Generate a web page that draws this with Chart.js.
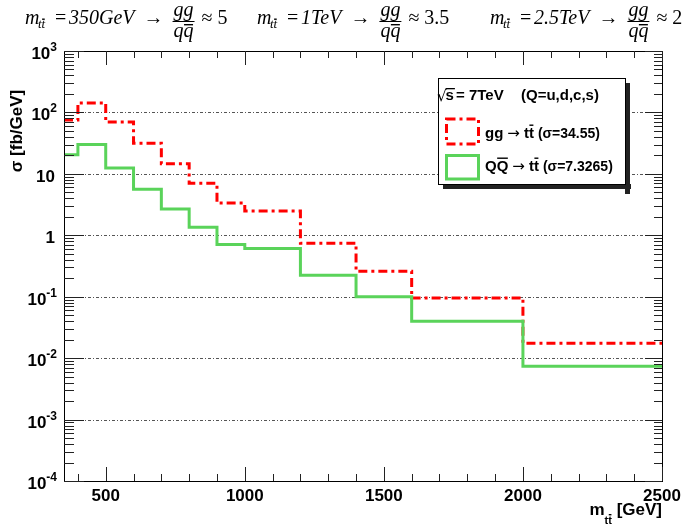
<!DOCTYPE html>
<html><head><meta charset="utf-8">
<script src="https://cdn.jsdelivr.net/npm/chart.js@4.4.0/dist/chart.umd.min.js"></script>
<style>html,body{margin:0;padding:0;background:#fff;overflow:hidden}#wrap{width:685px;height:530px}</style>
</head><body><div id="wrap"><canvas id="c" width="685" height="530"></canvas></div>
<script>
// ---- data ----
const binEdges = [350, 400, 500, 600, 700, 800, 900, 1000, 1200, 1400, 1600, 2000, 2500];
const ggValues = [75, 143, 70, 31.6, 14.6, 7.0, 3.35, 2.48, 0.74, 0.259, 0.095, 0.0175];
const qqValues = [20.4, 30, 12.4, 5.6, 2.68, 1.35, 0.71, 0.61, 0.223, 0.1, 0.040, 0.0074];
const xTickValues = [500, 1000, 1500, 2000, 2500];
const xTickLabels = ['500', '1000', '1500', '2000', '2500'];
const yTickValues = [1e3, 1e2, 1e1, 1, 1e-1, 1e-2, 1e-3, 1e-4];
const yTickBases = ['10', '10', '10', '1', '10', '10', '10', '10'];
const yTickExps = ['3', '2', '', '', '-1', '-2', '-3', '-4'];
const headerMasses = ['350GeV', '1TeV', '2.5TeV'];
const headerRatios = ['5', '3.5', '2'];
const ggSigma = '34.55';
const qqSigma = '7.3265';

function histPoints(vals) {
  const pts = vals.map((v, i) => ({x: binEdges[i], y: v}));
  pts.push({x: binEdges[binEdges.length - 1], y: vals[vals.length - 1]});
  return pts;
}

const SANS = '"Liberation Sans", Arial, sans-serif';
const SERIF = '"Liberation Serif", "Times New Roman", serif';

function textWithBars(ctx, str, x, y, barIdx, barY) {
  ctx.fillText(str, x, y);
  barIdx.forEach(i => {
    const a = ctx.measureText(str.slice(0, i)).width;
    const b = ctx.measureText(str.slice(0, i + 1)).width;
    ctx.fillRect(x + a + 0.5, barY, b - a - 1, 1.4);
  });
  return ctx.measureText(str).width;
}

function drawHeaderSeg(ctx, x0, valText, ratioText) {
  const it = 'italic 20px ' + SERIF, up = '20px ' + SERIF, sub = 'italic 13px ' + SERIF;
  ctx.fillStyle = '#000'; ctx.textAlign = 'left'; ctx.textBaseline = 'alphabetic';
  ctx.font = it; ctx.fillText('m', x0, 24);
  ctx.font = sub; textWithBars(ctx, 'tt', x0 + 13, 28, [1], 18.5);
  ctx.font = up; ctx.fillText('=', x0 + 30, 24);
  ctx.font = it; ctx.fillText(valText, x0 + 44, 24);
  let x = x0 + 44 + ctx.measureText(valText).width + 9;
  ctx.font = up; ctx.fillText('\u2192', x, 24); x += ctx.measureText('\u2192').width + 9;
  ctx.font = it;
  const wg = ctx.measureText('gg').width, wq = ctx.measureText('qq').width;
  const fw = Math.max(wg, wq) + 2;
  ctx.fillText('gg', x + (fw - wg) / 2, 16);
  textWithBars(ctx, 'qq', x + (fw - wq) / 2, 37, [1], 24);
  ctx.fillRect(x, 21, fw, 1);
  x += fw + 7;
  ctx.font = up; ctx.fillText('\u2248', x, 24); x += ctx.measureText('\u2248').width + 5;
  ctx.fillText(ratioText, x, 24);
}

function drawLegendLine(ctx, x, y, first, firstBars, sigma) {
  const bold = 'bold 15px ' + SANS;
  ctx.font = bold;
  x += textWithBars(ctx, first, x, y, firstBars, y - 13.5) + 4;
  ctx.font = '15px "DejaVu Sans", sans-serif';
  ctx.fillText('\u2192', x, y - 0.5); x += ctx.measureText('\u2192').width + 4;
  ctx.font = bold;
  x += textWithBars(ctx, 'tt', x, y, [1], y - 13.5) + 4;
  ctx.font = 'bold 14px ' + SANS;
  ctx.fillText('(\u03c3=' + sigma + ')', x, y);
}

const rootFrame = {
  id: 'rootFrame',
  beforeDatasetsDraw(chart) {
    const ctx = chart.ctx, {left, right} = chart.chartArea, ya = chart.scales.y;
    ctx.save();
    ctx.strokeStyle = '#555'; ctx.lineWidth = 1; ctx.setLineDash([3, 2, 1, 2]);
    yTickValues.forEach(v => {
      if (v <= ya.min || v >= ya.max) return;
      const y = Math.round(ya.getPixelForValue(v)) + 0.5;
      ctx.beginPath(); ctx.moveTo(left, y); ctx.lineTo(right, y); ctx.stroke();
    });
    ctx.restore();
  },
  afterDatasetsDraw(chart) {
    const ctx = chart.ctx, {left, right, top, bottom} = chart.chartArea;
    const xa = chart.scales.x, ya = chart.scales.y;
    ctx.save();
    ctx.setLineDash([]);
    // frame
    ctx.strokeStyle = '#000'; ctx.lineWidth = 1;
    ctx.strokeRect(Math.round(left) + 0.5, Math.round(top) + 0.5, Math.round(right - left), Math.round(bottom - top));
    // y ticks
    ctx.strokeStyle = '#222';
    ctx.beginPath();
    for (let e = -4; e <= 3; e++) {
      for (let m = 1; m <= 9; m++) {
        const v = m * Math.pow(10, e);
        if (v > ya.max) break;
        const y = Math.round(ya.getPixelForValue(v)) + 0.5;
        const lenL = m === 1 ? 20 : 10, lenR = m === 1 ? 17 : 8;
        ctx.moveTo(left, y); ctx.lineTo(left + lenL, y);
        ctx.moveTo(right, y); ctx.lineTo(right - lenR, y);
      }
    }
    // x ticks
    for (let v = 400; v <= 2500; v += 100) {
      const x = Math.round(xa.getPixelForValue(v)) + 0.5;
      const len = v % 500 === 0 ? 14 : 7;
      ctx.moveTo(x, bottom); ctx.lineTo(x, bottom - len);
      ctx.moveTo(x, top); ctx.lineTo(x, top + len);
    }
    ctx.stroke();

    // x tick labels
    ctx.fillStyle = '#000';
    ctx.font = 'bold 17px ' + SANS; ctx.textAlign = 'center'; ctx.textBaseline = 'alphabetic';
    xTickValues.forEach((v, i) => ctx.fillText(xTickLabels[i], xa.getPixelForValue(v), 501));
    // y tick labels
    yTickValues.forEach((v, i) => {
      const y = ya.getPixelForValue(v);
      const base = yTickBases[i], ex = yTickExps[i];
      ctx.textAlign = 'right';
      const rx = 57;
      if (ex) {
        ctx.font = 'bold 12px ' + SANS;
        const we = ctx.measureText(ex).width;
        ctx.fillText(ex, rx, y + 0);
        ctx.font = 'bold 17px ' + SANS;
        ctx.fillText(base, rx - we, y + 8);
      } else {
        ctx.font = 'bold 17px ' + SANS;
        ctx.fillText(base, 55, y + 8);
      }
    });

    // x axis title
    ctx.textAlign = 'left';
    ctx.font = 'bold 17px ' + SANS;
    const wGeV = ctx.measureText(' [GeV]').width;
    const wm = ctx.measureText('m').width;
    ctx.font = 'bold 11px ' + SANS;
    const wtt = ctx.measureText('tt').width;
    let tx = 662 - wGeV - wtt - wm;
    ctx.font = 'bold 17px ' + SANS;
    ctx.fillText('m', tx, 515);
    ctx.font = 'bold 11px ' + SANS;
    textWithBars(ctx, 'tt', tx + wm, 524, [1], 514);
    ctx.font = 'bold 17px ' + SANS;
    ctx.fillText(' [GeV]', tx + wm + wtt, 515);

    // y axis title
    ctx.save();
    ctx.translate(22, 131); ctx.rotate(-Math.PI / 2);
    ctx.textAlign = 'center'; ctx.font = 'bold 17px ' + SANS;
    ctx.fillText('\u03c3 [fb/GeV]', 0, 0);
    ctx.restore();

    // header
    const segX = [25, 257, 490];
    headerMasses.forEach((m, i) => drawHeaderSeg(ctx, segX[i], m, headerRatios[i]));

    // legend
    const L = 438, T = 78, W = 187, H = 106;
    ctx.fillStyle = '#222';
    ctx.fillRect(L + 5, T + H, W + 1, 5);
    ctx.fillRect(L + W, T + 5, 5, H + 5);
    ctx.fillStyle = '#fff'; ctx.fillRect(L, T, W, H);
    ctx.strokeStyle = '#000'; ctx.lineWidth = 1; ctx.strokeRect(L + 0.5, T + 0.5, W, H);
    ctx.fillStyle = '#000'; ctx.textAlign = 'left';
    ctx.font = '15px "DejaVu Sans", sans-serif';
    ctx.fillText('\u221A', 437, 101);
    const wsq = ctx.measureText('\u221A').width;
    ctx.font = 'bold 15px ' + SANS;
    ctx.fillText('s', 437 + wsq - 1, 100);
    ctx.fillRect(437 + wsq - 1, 88, ctx.measureText('s').width + 1, 1.3);
    ctx.fillText('= 7TeV', 456, 100);
    ctx.fillText('(Q=u,d,c,s)', 521, 100);
    // legend markers
    ctx.lineWidth = 3;
    ctx.strokeStyle = '#ff0000'; ctx.setLineDash([9, 4, 3, 4]);
    ctx.strokeRect(446.5, 119, 32, 25);
    ctx.setLineDash([]);
    ctx.strokeStyle = '#5ad35a';
    ctx.strokeRect(446.5, 155.5, 32, 23.5);
    ctx.fillStyle = '#000';
    drawLegendLine(ctx, 485, 138, 'gg', [], ggSigma);
    drawLegendLine(ctx, 485, 171, 'QQ', [1], qqSigma);
    ctx.restore();
  }
};

new Chart(document.getElementById('c'), {
  type: 'line',
  data: {
    datasets: [
      {label: 'QQbar', data: histPoints(qqValues), borderColor: '#5ad35a', borderWidth: 3,
       stepped: true, pointRadius: 0, fill: false, borderCapStyle: 'butt', borderJoinStyle: 'miter'},
      {label: 'gg', data: histPoints(ggValues), borderColor: '#ff0000', borderWidth: 3,
       borderDash: [9, 4, 3, 4], stepped: true, pointRadius: 0, fill: false, borderCapStyle: 'butt', borderJoinStyle: 'miter'}
    ]
  },
  options: {
    responsive: false, animation: false, devicePixelRatio: 1,
    layout: {padding: {left: 0, right: 23, top: 51, bottom: 0}},
    plugins: {legend: {display: false}, tooltip: {enabled: false}, title: {display: false}},
    scales: {
      x: {type: 'linear', min: 350, max: 2500, ticks: {display: false}, grid: {display: false},
          border: {display: false}, afterFit(s) { s.height = 49; }},
      y: {type: 'logarithmic', min: 1e-4, max: 1e3, ticks: {display: false}, grid: {display: false},
          border: {display: false}, afterFit(s) { s.width = 64; }}
    }
  },
  plugins: [rootFrame]
});
</script>
</body></html>
